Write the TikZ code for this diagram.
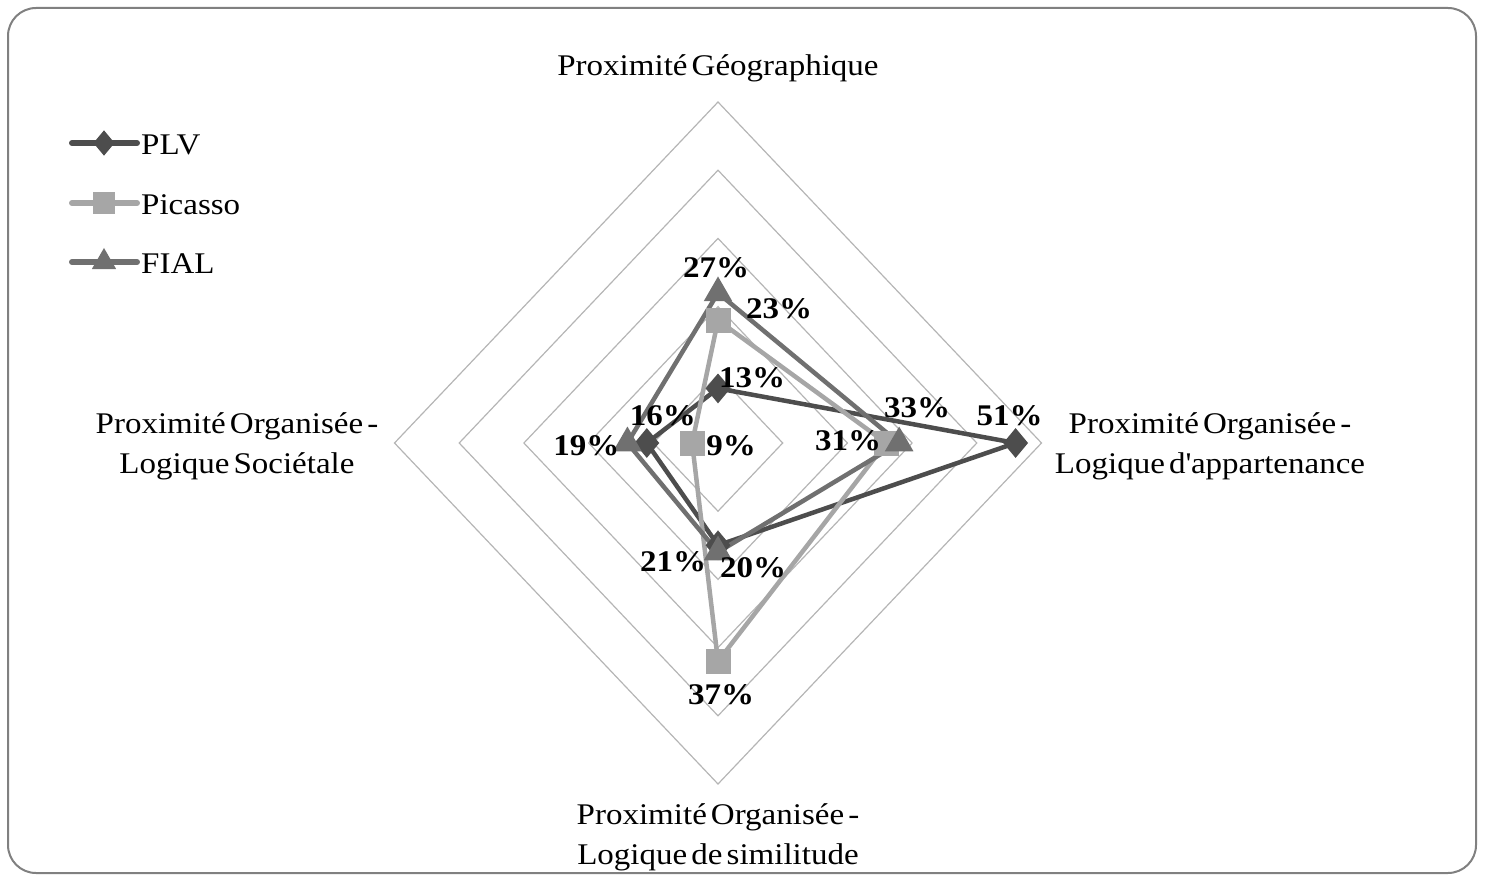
\documentclass[tikz,border=0pt]{standalone}
\usepackage{fontspec}
\setmainfont{Liberation Serif}[FakeStretch=1.1, WordSpace=0.5]
\usetikzlibrary{shapes.geometric}
\definecolor{plv}{HTML}{4D4D4D}
\definecolor{pic}{HTML}{A6A6A6}
\definecolor{fial}{HTML}{707070}
\definecolor{gridgray}{HTML}{B5B5B5}
\definecolor{framegray}{HTML}{808080}
\tikzset{
  series/.style={line width=4.5pt, line join=round},
  plv mark/.style={diamond, fill=plv, inner sep=0pt, minimum width=25pt, minimum height=30pt},
  pic mark/.style={rectangle, fill=pic, inner sep=0pt, minimum size=25pt},
  fial mark/.style={regular polygon, regular polygon sides=3, fill=fial, inner sep=0pt, minimum size=33pt},
  pct/.style={font=\fontsize{30}{36}\selectfont\bfseries, inner sep=0pt},
  axislabel/.style={font=\fontsize{30}{40}\selectfont, align=center, inner sep=0pt},
  legtext/.style={font=\fontsize{30}{36}\selectfont, anchor=base west, inner sep=0pt}
}
\begin{document}
\begin{tikzpicture}[x=1pt,y=-1pt]
  \useasboundingbox (0,0) rectangle (1486,875);
  \draw[framegray, line width=2pt, rounded corners=28pt] (8,8) rectangle (1476,873);
  \foreach \r in {1,...,5}
    \draw[gridgray, line width=1.2pt] (718,{443-68.2*\r}) -- ({718+64.7*\r},443) -- (718,{443+68.2*\r}) -- ({718-64.7*\r},443) -- cycle;
  \foreach \s/\vgeo/\vapp/\vsim/\vsoc in {plv/13/51/20/16, pic/23/31/37/9, fial/27/33/21/19} {
    \coordinate (\s-t) at (718,{443-6.82*(\vgeo-5)});
    \coordinate (\s-r) at ({718+6.47*(\vapp-5)},443);
    \coordinate (\s-b) at (718,{443+6.82*(\vsim-5)});
    \coordinate (\s-l) at ({718-6.47*(\vsoc-5)},443);
  }
  \foreach \s in {plv,pic,fial}
    \draw[series, draw=\s] (\s-t) -- (\s-r) -- (\s-b) -- (\s-l) -- cycle;
  \foreach \s in {plv,pic,fial}
    \foreach \p in {t,r,b,l}
      \node[\s\space mark] (\s-\p-m) at (\s-\p) {};
  \node[pct] (fial-t-v) at ([shift={(-2,-25)}]fial-t) {27\%};
  \node[pct] (pic-t-v) at ([shift={(61,-12)}]pic-t) {23\%};
  \node[pct] (plv-t-v) at ([shift={(34,-11)}]plv-t) {13\%};
  \node[pct] (plv-l-v) at ([shift={(16,-27)}]plv-l) {16\%};
  \node[pct] (fial-l-v) at ([shift={(-41,3)}]fial-l) {19\%};
  \node[pct] (pic-l-v) at ([shift={(39,3)}]pic-l) {9\%};
  \node[pct] (pic-r-v) at ([shift={(-38,-2)}]pic-r) {31\%};
  \node[pct] (fial-r-v) at ([shift={(18,-35)}]fial-r) {33\%};
  \node[pct] (plv-r-v) at ([shift={(-6,-27)}]plv-r) {51\%};
  \node[pct] (fial-b-v) at ([shift={(-45,10)}]fial-b) {21\%};
  \node[pct] (plv-b-v) at ([shift={(35,22)}]plv-b) {20\%};
  \node[pct] (pic-b-v) at ([shift={(3,33)}]pic-b) {37\%};
  \node[axislabel, anchor=base] (geo) at (718,75) {Proximité Géographique};
  \node[axislabel] (app) at (1210,446) {Proximité Organisée -\\Logique d\textquotesingle appartenance};
  \node[axislabel] (soc) at (237,446) {Proximité Organisée -\\Logique Sociétale};
  \node[axislabel] (sim) at (718,837) {Proximité Organisée -\\Logique de similitude};
  \foreach \s/\y/\name in {plv/143/PLV, pic/203/Picasso, fial/262/FIAL} {
    \coordinate (leg-\s-a) at (72,\y);
    \coordinate (leg-\s-b) at (137,\y);
    \draw[draw=\s, line width=6pt, line cap=round] (leg-\s-a) -- (leg-\s-b);
    \node[\s\space mark, scale=0.85] (leg-\s-m) at (104,\y) {};
    \node[legtext] (leg-\s) at (141,\y+11) {\name};
  }
\end{tikzpicture}
\end{document}
